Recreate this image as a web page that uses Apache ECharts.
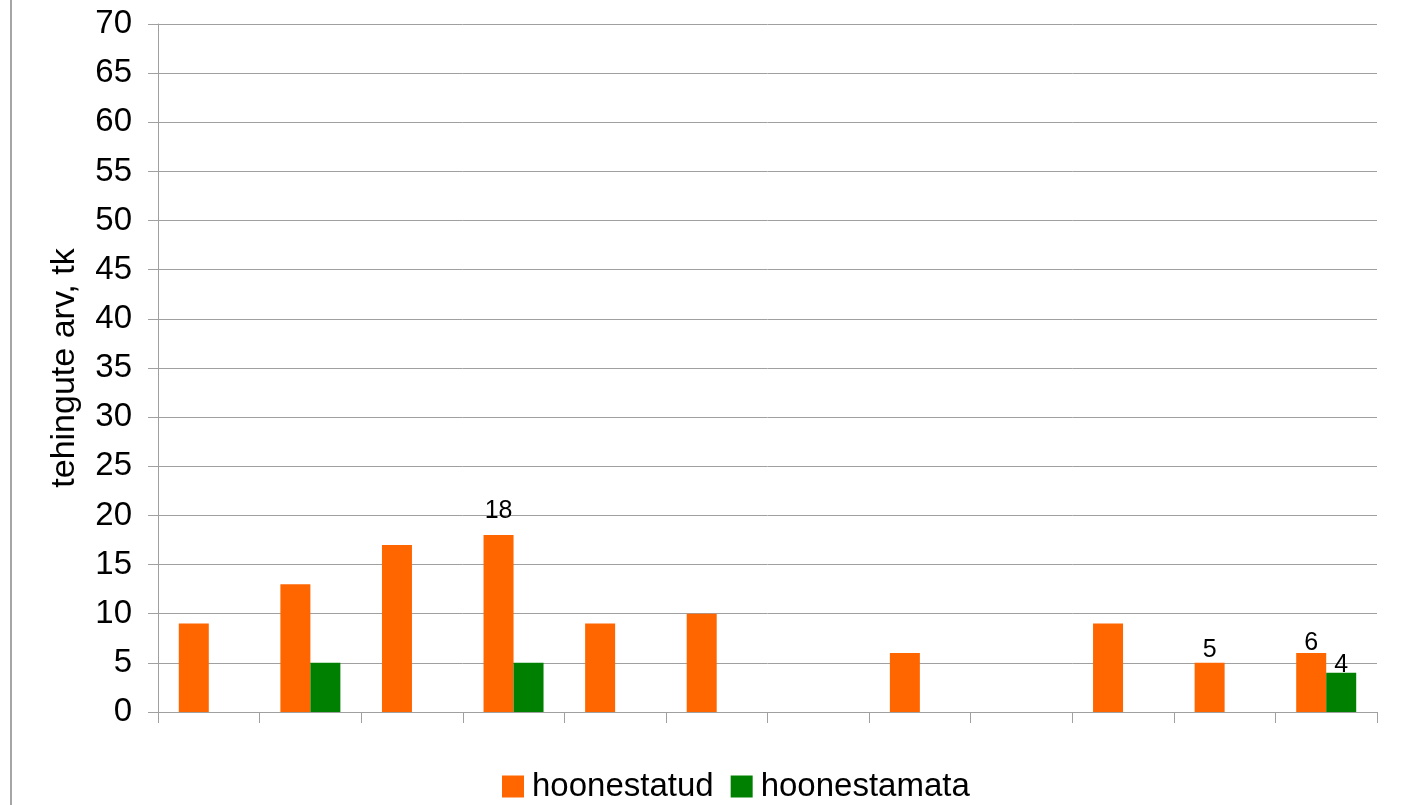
<!DOCTYPE html>
<html>
<head>
<meta charset="utf-8">
<script src="https://cdn.jsdelivr.net/npm/echarts@6/dist/echarts.min.js"></script>
<style>
  html, body { margin: 0; padding: 0; background: #fff; }
  #chart { width: 1411px; height: 805px; }
</style>
</head>
<body>
<div id="chart"></div>
<script>
// categories have no visible labels in the original
var categories = ['', '', '', '', '', '', '', '', '', '', '', ''];
var built = [9, 13, 17, 18, 9, 10, 0, 6, 0, 9, 5, 6];
var unbuilt = [0, 5, 0, 5, 0, 0, 0, 0, 0, 0, 0, 4];
// which bars show a value label
var builtLabels = [3, 10, 11];
var unbuiltLabels = [11];

function withLabels(values, shown, dist) {
  return values.map(function (v, i) {
    return {
      value: v,
      label: { show: shown.indexOf(i) >= 0, position: 'top', distance: dist[i] || 0 }
    };
  });
}

var chart = echarts.init(document.getElementById('chart'));
chart.setOption({
  animation: false,
  textStyle: { fontFamily: 'Liberation Sans, Arial, sans-serif' },
  grid: { left: 158, right: 34, top: 24, bottom: 93 },
  graphic: [{
    type: 'line',
    shape: { x1: 11, y1: 0, x2: 11, y2: 805 },
    style: { stroke: '#a6a6a6', lineWidth: 2 }
  }],
  legend: {
    bottom: 2,
    left: 502,
    padding: 0,
    itemWidth: 22,
    itemHeight: 22,
    itemGap: 17,
    icon: 'rect',
    textStyle: { fontSize: 33, color: '#000', padding: [0, 0, 0, 3] },
    data: ['hoonestatud', 'hoonestamata']
  },
  xAxis: {
    type: 'category',
    data: categories,
    axisLine: { lineStyle: { color: '#a0a0a0', width: 1 } },
    axisTick: { show: true, length: 11, lineStyle: { color: '#a0a0a0' } },
    axisLabel: { show: false }
  },
  yAxis: {
    type: 'value',
    min: 0,
    max: 70,
    interval: 5,
    name: 'tehingute arv, tk',
    nameLocation: 'middle',
    nameGap: 76,
    nameTextStyle: { fontSize: 34, color: '#000' },
    axisLine: { show: true, lineStyle: { color: '#a0a0a0' } },
    axisTick: { show: true, length: 10, lineStyle: { color: '#a0a0a0' } },
    axisLabel: { fontSize: 33, color: '#000', margin: 26 },
    splitLine: { lineStyle: { color: '#a0a0a0', width: 1 } }
  },
  series: [
    {
      name: 'hoonestatud',
      type: 'bar',
      barWidth: 30,
      barGap: '0%',
      itemStyle: { color: '#ff6600' },
      label: { fontSize: 25, color: '#000' },
      data: withLabels(built, builtLabels, { 3: 11, 10: 0, 11: -3 })
    },
    {
      name: 'hoonestamata',
      type: 'bar',
      barWidth: 30,
      barGap: '0%',
      itemStyle: { color: '#008000' },
      label: { fontSize: 25, color: '#000' },
      data: withLabels(unbuilt, unbuiltLabels, { 11: -5 })
    }
  ]
});
</script>
</body>
</html>
